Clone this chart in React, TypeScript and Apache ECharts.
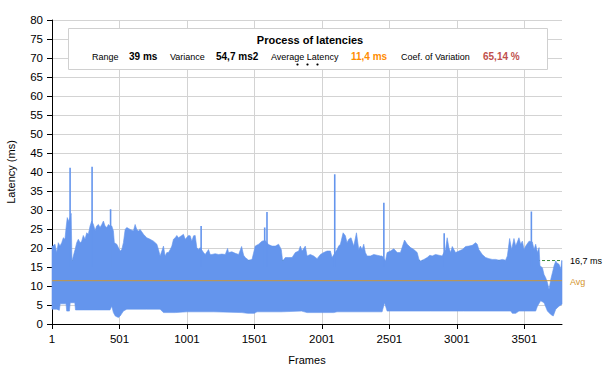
import React, { useEffect, useRef } from "react";
import * as echarts from "echarts";

// Frame index (1-based) and latency (ms)
const upperEnvelope: [number, number][] = [
  [1, 20.5], [6, 20.5], [23, 21.0], [36, 18.8], [48, 21.4], [60, 20.5], [73, 21.4], [85, 22.7], [97, 22.3],
  [104, 24.9], [114, 28.0], [126, 27.0], [143, 29.1], [149, 16.6], [159, 17.9], [172, 19.6], [184, 21.4],
  [196, 22.3], [209, 21.4], [221, 21.8], [233, 23.3], [246, 22.3], [258, 24.0], [270, 23.6], [283, 25.8],
  [295, 27.1], [308, 26.2], [320, 24.6], [332, 25.8], [345, 26.2], [357, 25.4], [370, 26.2], [382, 27.1],
  [394, 25.8], [407, 25.4], [419, 26.2], [431, 25.8], [444, 25.8], [456, 24.5], [463, 21.4], [481, 21.0],
  [493, 20.1], [506, 19.2], [518, 19.6], [530, 21.4], [543, 24.9], [555, 25.4], [580, 24.9], [604, 24.5],
  [617, 26.2], [629, 24.9], [642, 24.5], [654, 24.9], [679, 23.6], [703, 22.7], [728, 22.3], [753, 21.8],
  [778, 21.0], [790, 19.6], [802, 17.9], [815, 19.2], [827, 20.5], [839, 17.9], [852, 18.8], [864, 18.8],
  [877, 19.6], [889, 20.5], [901, 22.3], [914, 22.7], [926, 23.3], [938, 22.7], [963, 23.3], [975, 23.6],
  [988, 22.3], [1013, 23.3], [1025, 23.2], [1037, 21.8], [1050, 23.2], [1062, 23.3], [1074, 20.1],
  [1087, 19.6], [1099, 20.1], [1124, 18.8], [1136, 18.3], [1161, 19.6], [1173, 18.3], [1186, 18.3],
  [1210, 18.5], [1235, 18.3], [1260, 18.4], [1285, 18.3], [1302, 19.9], [1309, 18.8], [1334, 19.0],
  [1359, 18.6], [1384, 18.3], [1406, 20.4], [1421, 18.1], [1433, 17.5], [1458, 16.8], [1483, 17.0],
  [1507, 20.5], [1532, 21.0], [1557, 21.8], [1580, 22.0], [1606, 20.9], [1631, 20.5], [1656, 20.5],
  [1680, 21.0], [1700, 19.6], [1710, 16.6], [1730, 17.5], [1755, 17.5], [1780, 17.5], [1804, 18.8],
  [1829, 19.2], [1841, 20.5], [1854, 19.2], [1878, 20.5], [1891, 17.9], [1915, 18.3], [1940, 17.9],
  [1965, 17.2], [1990, 18.3], [2014, 18.8], [2039, 19.2], [2064, 19.2], [2076, 17.5], [2113, 19.6],
  [2125, 20.5], [2138, 21.0], [2158, 24.0], [2175, 23.2], [2187, 21.4], [2200, 22.3], [2217, 22.7],
  [2237, 20.5], [2257, 24.0], [2274, 19.6], [2286, 20.5], [2299, 19.6], [2311, 21.0], [2323, 18.8],
  [2336, 17.9], [2361, 17.9], [2385, 18.3], [2410, 18.1], [2435, 17.9], [2447, 17.9], [2472, 16.6],
  [2484, 18.8], [2509, 19.2], [2534, 19.8], [2559, 18.8], [2583, 18.8], [2613, 22.1], [2633, 21.0],
  [2658, 20.1], [2682, 19.6], [2707, 18.8], [2720, 17.0], [2732, 16.6], [2757, 17.0], [2781, 17.5],
  [2801, 18.1], [2818, 17.9], [2843, 18.3], [2868, 18.1], [2892, 17.9], [2917, 19.6], [2929, 22.7],
  [2942, 20.1], [2954, 18.8], [2967, 20.4], [2979, 19.6], [2991, 18.8], [3016, 19.2], [3041, 19.6],
  [3066, 20.4], [3090, 20.5], [3115, 20.7], [3140, 21.4], [3152, 21.0], [3164, 19.6], [3189, 18.3],
  [3214, 17.5], [3239, 17.2], [3263, 17.0], [3288, 17.0], [3313, 16.8], [3338, 17.0], [3362, 16.8],
  [3375, 17.9], [3392, 22.5], [3407, 19.6], [3424, 22.5], [3437, 20.5], [3461, 22.7], [3474, 21.0],
  [3486, 21.8], [3499, 19.6], [3511, 20.5], [3536, 21.8], [3560, 21.6], [3573, 19.6], [3585, 21.0],
  [3598, 18.8], [3610, 20.1], [3617, 15.3], [3635, 14.8], [3647, 13.0], [3659, 12.2], [3672, 10.9],
  [3684, 9.1], [3697, 11.8], [3709, 13.5], [3721, 15.3], [3734, 16.6], [3741, 16.1], [3758, 15.7],
  [3771, 14.5], [3778, 16.7], [3780, 16.7],
];

const lowerEnvelope: [number, number][] = [
  [1, 3.9], [36, 3.9], [55, 3.6], [62, 5.3], [105, 5.3], [110, 3.4], [130, 3.4], [136, 5.6], [170, 5.6],
  [175, 3.7], [233, 3.7], [332, 3.7], [431, 3.7], [444, 4.7], [456, 3.0], [470, 2.1], [493, 1.7],
  [506, 2.1], [530, 3.4], [555, 3.9], [700, 3.9], [802, 3.9], [827, 3.0], [914, 3.0], [1000, 3.2],
  [1200, 3.2], [1408, 3.0], [1450, 2.8], [1500, 2.8], [1520, 3.2], [1700, 3.2], [1850, 3.4], [1891, 3.0],
  [2088, 3.0], [2113, 3.2], [2447, 3.2], [2465, 5.6], [2484, 3.4], [2806, 3.4], [3050, 3.4], [3400, 3.4],
  [3412, 2.8], [3437, 2.8], [3461, 3.4], [3585, 3.4], [3598, 4.7], [3622, 6.1], [3647, 5.6], [3672, 3.4],
  [3697, 2.5], [3715, 2.1], [3734, 3.9], [3758, 4.7], [3780, 5.2],
];

const spikes: [number, number][] = [
  [135, 41.1], [298, 41.4], [435, 30.2], [1106, 25.8], [1577, 25.4], [1594, 29.5],
  [2096, 39.4], [2460, 31.9], [2907, 23.9], [3553, 29.6],
];

const LAST_FRAME = 3780;
const AVG_LATENCY = 11.4;
const THRESHOLD = 16.7;
const xTickFrames = [1, 501, 1001, 1501, 2001, 2501, 3001, 3501];

const statLabels = ["Range", "Variance", "Average Latency", "Coef. of Variation"];
const statValues = ["39 ms", "54,7 ms2", "11,4 ms", "65,14 %"];
const thresholdLabel = "16,7 ms";
const avgLabel = "Avg";

const BLUE = "#6495ED";
const FONT = "Liberation Sans, Arial, sans-serif";

export default function App() {
  const ref = useRef<HTMLDivElement>(null);
  useEffect(() => {
    if (!ref.current) return;
    document.body.style.margin = "0";
    const chart = echarts.init(ref.current, null, { renderer: "svg" });
    const tickIdx = xTickFrames.map((f) => f - 1);

    const labelX = [92, 170, 271, 401];
    const valueX = [129, 216, 351, 483];
    const valueColors = ["#000", "#000", "#FF8C00", "#C0504D"];
    const statGraphics: any[] = [];
    statLabels.forEach((t, i) => {
      statGraphics.push({
        type: "text", x: labelX[i], y: 56.5, z: 101,
        style: { text: t, fontSize: 9, fontFamily: FONT, fill: "#000", verticalAlign: "middle" },
      });
      statGraphics.push({
        type: "text", x: valueX[i], y: 56.5, z: 101,
        style: { text: statValues[i], fontSize: 10, fontWeight: "bold", fontFamily: FONT, fill: valueColors[i], verticalAlign: "middle" },
      });
    });

    chart.setOption({
      animation: false,
      textStyle: { fontFamily: FONT },
      grid: { left: 52, right: 41, top: 20, bottom: 50, containLabel: false, outerBoundsMode: "none" },
      xAxis: {
        type: "value",
        min: 0,
        max: LAST_FRAME - 1,
        interval: 500,
        name: "Frames",
        nameLocation: "middle",
        nameGap: 30,
        nameTextStyle: { fontSize: 11, color: "#000", fontFamily: FONT },
        axisLine: { lineStyle: { color: "#000", width: 1 } },
        axisTick: { show: true, inside: false, length: 5, lineStyle: { color: "#000" }, customValues: tickIdx },
        axisLabel: {
          fontSize: 11.5, color: "#000", margin: 9, fontFamily: FONT,
          customValues: tickIdx,
          formatter: (v: number) => String(Math.round(v) + 1),
        },
        splitLine: { show: true, lineStyle: { color: "#d3d3d3", width: 1 } },
      },
      yAxis: {
        type: "value",
        min: 0,
        max: 80,
        interval: 5,
        name: "Latency (ms)",
        nameLocation: "middle",
        nameGap: 36,
        nameTextStyle: { fontSize: 11, color: "#000", fontFamily: FONT },
        axisLine: { show: true, lineStyle: { color: "#000", width: 1 } },
        axisTick: { show: true, length: 5, lineStyle: { color: "#000" } },
        axisLabel: { fontSize: 11.5, color: "#000", margin: 9, fontFamily: FONT },
        splitLine: { show: true, lineStyle: { color: "#d3d3d3", width: 1 } },
      },
      series: [
        {
          type: "line",
          name: "threshold",
          z: 1,
          symbol: "none",
          data: [[0, THRESHOLD], [LAST_FRAME - 1, THRESHOLD]],
          lineStyle: { color: "#3A8A3A", width: 1, type: [3, 2] },
          silent: true,
        },
        {
          type: "custom",
          name: "latency",
          z: 2,
          silent: true,
          data: [[1000, 10]],
          renderItem: (_params: any, api: any) => {
            const pts: number[][] = [];
            upperEnvelope.forEach(([f, v]) => pts.push(api.coord([f - 1, v])));
            for (let i = lowerEnvelope.length - 1; i >= 0; i--) {
              const [f, v] = lowerEnvelope[i];
              pts.push(api.coord([f - 1, v]));
            }
            return { type: "polygon", shape: { points: pts }, style: { fill: BLUE, stroke: BLUE, lineWidth: 0.6 } };
          },
        },
        {
          type: "custom",
          name: "spikes",
          z: 2,
          silent: true,
          data: spikes.map(([f, v]) => [f - 1, v]),
          renderItem: (_params: any, api: any) => {
            const top = api.coord([api.value(0), api.value(1)]);
            const base = api.coord([api.value(0), 15]);
            return {
              type: "line",
              shape: { x1: top[0], y1: top[1], x2: base[0], y2: base[1] },
              style: { stroke: BLUE, lineWidth: 1.6 },
            };
          },
        },
        {
          type: "line",
          name: "avg",
          z: 3,
          symbol: "none",
          data: [[0, AVG_LATENCY], [LAST_FRAME - 1, AVG_LATENCY]],
          lineStyle: { color: "#C8963E", width: 1 },
          silent: true,
        },
      ],
      graphic: [
        {
          type: "rect",
          z: 100,
          shape: { x: 68.5, y: 28.5, width: 479, height: 41 },
          style: { fill: "#fff", stroke: "#d0d0d0", lineWidth: 1 },
        },
        {
          type: "text", x: 310, y: 40, z: 101,
          style: { text: "Process of latencies", fontSize: 11, fontWeight: "bold", fontFamily: FONT, fill: "#000", align: "center", verticalAlign: "middle" },
        },
        ...statGraphics,
        { type: "circle", z: 101, shape: { cx: 297.5, cy: 64.5, r: 1.1 }, style: { fill: "#000" } },
        { type: "circle", z: 101, shape: { cx: 307.5, cy: 64.5, r: 1.1 }, style: { fill: "#000" } },
        { type: "circle", z: 101, shape: { cx: 317.5, cy: 64.5, r: 1.1 }, style: { fill: "#000" } },
      ],
    });

    // Right-hand labels placed at the values through the axis scale
    const pThr = chart.convertToPixel({ gridIndex: 0 }, [LAST_FRAME - 1, THRESHOLD]) as number[];
    const pAvg = chart.convertToPixel({ gridIndex: 0 }, [LAST_FRAME - 1, AVG_LATENCY]) as number[];
    chart.setOption({
      graphic: [
        {
          id: "thrLabel", type: "text", x: pThr[0] + 8, y: pThr[1], z: 101,
          style: { text: thresholdLabel, fontSize: 9, fontFamily: FONT, fill: "#000", verticalAlign: "middle" },
        },
        {
          id: "avgLabel", type: "text", x: pAvg[0] + 8, y: pAvg[1] + 1, z: 101,
          style: { text: avgLabel, fontSize: 9, fontFamily: FONT, fill: "#D4952B", verticalAlign: "middle" },
        },
      ],
    });
    return () => chart.dispose();
  }, []);
  return <div ref={ref} style={{ width: 603, height: 374 }} />;
}
